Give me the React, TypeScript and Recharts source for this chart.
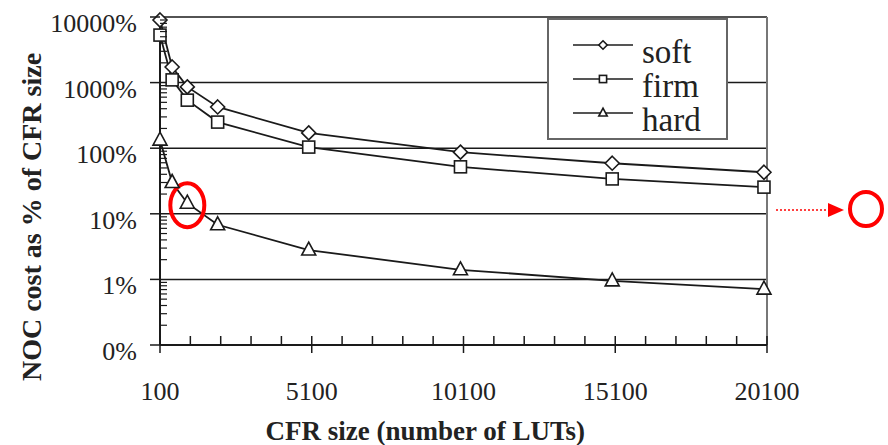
import React from 'react';
import { LineChart, Line, XAxis, YAxis, CartesianGrid, Legend, ReferenceLine, ReferenceDot } from 'recharts';

// values
const cfrSizes = [100, 500, 1000, 2000, 5000, 10000, 15000, 20000];
const softCost = [9000, 1730, 860, 425, 171, 87, 59, 43];
const firmCost = [5300, 1100, 540, 250, 104, 52, 34, 25.5];
const hardCost = [133, 30, 14.5, 6.8, 2.8, 1.4, 0.95, 0.71];

const seriesNames = ['soft', 'firm', 'hard'];

const xTicks = [100, 5100, 10100, 15100, 20100];
const xAllTicks = [
  100, 1100, 2100, 3100, 4100, 5100, 6100, 7100, 8100, 9100, 10100,
  11100, 12100, 13100, 14100, 15100, 16100, 17100, 18100, 19100, 20100,
];
const yTicks = [0.1, 1, 10, 100, 1000, 10000];
const yTickLabels = ['0%', '1%', '10%', '100%', '1000%', '10000%'];
const yAllTicks = [
  0.1, 0.2, 0.3, 0.4, 0.5, 0.6, 0.7, 0.8, 0.9,
  1, 2, 3, 4, 5, 6, 7, 8, 9,
  10, 20, 30, 40, 50, 60, 70, 80, 90,
  100, 200, 300, 400, 500, 600, 700, 800, 900,
  1000, 2000, 3000, 4000, 5000, 6000, 7000, 8000, 9000,
  10000,
];

const data = cfrSizes.map((size, i) => ({
  size,
  soft: softCost[i],
  firm: firmCost[i],
  hard: hardCost[i],
}));

const FONT = 'Liberation Serif';
const INK = '#1a1a1a';

function Marker({ kind, cx, cy, k = 1 }: { kind: string; cx: number; cy: number; k?: number }) {
  const common = { fill: '#fff', stroke: INK, strokeWidth: 1.6 };
  if (kind === 'soft') {
    const r = 7 * k;
    return <polygon points={`${cx},${cy - r} ${cx + r},${cy} ${cx},${cy + r} ${cx - r},${cy}`} {...common} />;
  }
  if (kind === 'firm') {
    const h = 6 * k;
    return <rect x={cx - h} y={cy - h} width={h * 2} height={h * 2} {...common} />;
  }
  const w = 7 * k;
  return <polygon points={`${cx},${cy - 8 * k} ${cx + w},${cy + 5 * k} ${cx - w},${cy + 5 * k}`} {...common} />;
}

const makeDot = (kind: string) => (p: any) =>
  p.cx == null ? <g key={`${kind}-${p.index}`} /> : (
    <g key={`${kind}-${p.index}`}>
      <Marker kind={kind} cx={p.cx} cy={p.cy} />
    </g>
  );

// y ticks: majors point out with a label, minors point in
const renderYTick = ({ x, y, payload }: any) => {
  const i = yTicks.indexOf(payload.value);
  if (i < 0) return <line x1={x} x2={x + 7} y1={y} y2={y} stroke={INK} strokeWidth={1.2} />;
  return (
    <g>
      <line x1={x - 10} x2={x} y1={y} y2={y} stroke={INK} strokeWidth={1.5} />
      <text x={x - 23} y={y + 15} textAnchor="end" fontFamily={FONT} fontSize={26} fill="#222">
        {yTickLabels[i]}
      </text>
    </g>
  );
};

// x ticks: all point in, majors also cross out and get a label
const renderXTick = ({ x, y, payload }: any) => {
  const major = xTicks.includes(payload.value);
  return (
    <g>
      <line x1={x} x2={x} y1={y - 9} y2={major ? y + 8 : y} stroke={INK} strokeWidth={1.5} />
      {major && (
        <text x={x} y={y + 55} textAnchor="middle" fontFamily={FONT} fontSize={26} fill="#222">
          {payload.value}
        </text>
      )}
    </g>
  );
};

const renderYTitle = ({ viewBox }: any) => {
  const cx = viewBox.x + 41;
  const cy = viewBox.y + viewBox.height / 2 + 36;
  return (
    <text x={cx} y={cy} transform={`rotate(-90, ${cx}, ${cy})`} textAnchor="middle"
      fontFamily={FONT} fontWeight="bold" fontSize={28} fill="#222">
      NOC cost as % of CFR size
    </text>
  );
};

const renderXTitle = ({ viewBox }: any) => (
  <text x={viewBox.x + viewBox.width * 0.437} y={viewBox.y + 95} textAnchor="middle"
    fontFamily={FONT} fontWeight="bold" fontSize={27} fill="#222">
    CFR size (number of LUTs)
  </text>
);

const renderLegend = ({ payload }: any) => {
  const items = seriesNames
    .map((n) => (payload || []).find((e: any) => e.dataKey === n))
    .filter(Boolean);
  return (
    <svg width={181} height={122} style={{ display: 'block' }}>
      <rect x={1} y={1} width={179} height={120} fill="#fff" stroke="#666" strokeWidth={2} />
      {items.map((entry: any, i: number) => {
        const cy = 27 + i * 34;
        return (
          <g key={entry.dataKey}>
            <line x1={26} x2={86} y1={cy} y2={cy} stroke="#555" strokeWidth={2} />
            <Marker kind={entry.dataKey} cx={56} cy={cy} k={0.6} />
            <text x={95} y={cy + 18} fontFamily={FONT} fontSize={33} fill="#222">{entry.value}</text>
          </g>
        );
      })}
    </svg>
  );
};

export default function App() {
  return (
    <div style={{ position: 'absolute', left: 0, top: 0, width: 888, height: 445, background: '#fff' }}>
      <LineChart width={888} height={445} data={data} margin={{ top: 17, right: 121, bottom: 0, left: 0 }}>
        <CartesianGrid xAxisId="main" yAxisId="main" vertical={false} horizontalValues={yTicks}
          stroke={INK} strokeWidth={1.5} />
        <XAxis xAxisId="main" dataKey="size" type="number" domain={[100, 20100]} ticks={xAllTicks}
          interval={0} height={100} tickSize={0} tickMargin={0} tickLine={false}
          axisLine={{ stroke: INK, strokeWidth: 2 }} tick={(p: any) => renderXTick(p)}
          label={(p: any) => renderXTitle(p)} />
        <YAxis yAxisId="main" type="number" scale="log" domain={[0.1, 10000]} ticks={yAllTicks}
          interval={0} width={160} tickSize={0} tickMargin={0} tickLine={false}
          axisLine={{ stroke: INK, strokeWidth: 2 }} tick={(p: any) => renderYTick(p)}
          label={(p: any) => renderYTitle(p)} />
        <ReferenceLine xAxisId="main" yAxisId="main" x={20100} stroke="#777" strokeWidth={2} />
        <Line xAxisId="main" yAxisId="main" dataKey="soft" name="soft" stroke={INK} strokeWidth={1.8}
          dot={makeDot('soft')} isAnimationActive={false} />
        <Line xAxisId="main" yAxisId="main" dataKey="firm" name="firm" stroke={INK} strokeWidth={1.8}
          dot={makeDot('firm')} isAnimationActive={false} />
        <Line xAxisId="main" yAxisId="main" dataKey="hard" name="hard" stroke={INK} strokeWidth={1.8}
          dot={makeDot('hard')} isAnimationActive={false} />
        <ReferenceDot xAxisId="main" yAxisId="main" x={cfrSizes[2]} y={hardCost[2]} ifOverflow="visible"
          shape={(p: any) => (
            <ellipse cx={p.cx} cy={p.cy + 2} rx={17} ry={22} fill="none" stroke="#f00" strokeWidth={4} />
          )} />
        <Legend layout="vertical" align="center" verticalAlign="middle" content={(p: any) => renderLegend(p)}
          wrapperStyle={{ position: 'absolute', left: 547, top: 18, width: 181, height: 122 }} />
      </LineChart>
      <svg width={888} height={445} style={{ position: 'absolute', left: 0, top: 0, pointerEvents: 'none' }}>
        <line x1={776} x2={830} y1={210} y2={210} stroke="#f00" strokeWidth={1.5} strokeDasharray="2 2" />
        <polygon points="828,203 844,210 828,217" fill="#f00" />
        <ellipse cx={866} cy={209} rx={16} ry={17} fill="none" stroke="#f00" strokeWidth={4} />
      </svg>
    </div>
  );
}
